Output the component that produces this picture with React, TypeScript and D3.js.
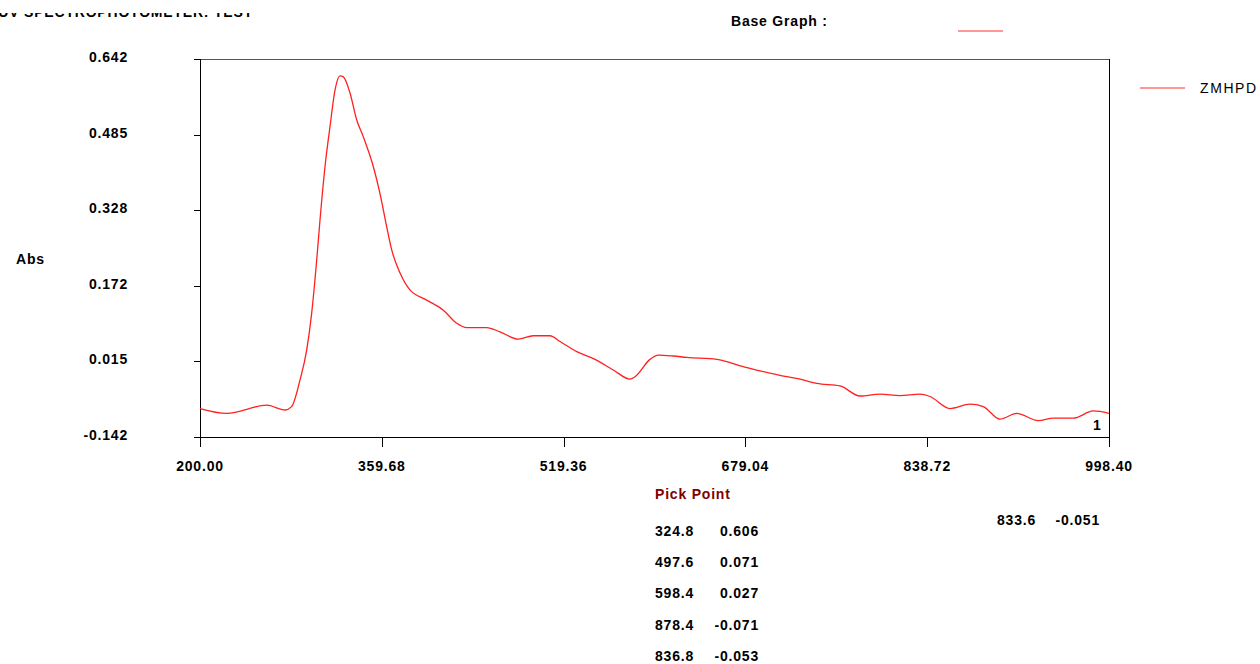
import * as d3 from "d3";

// spectrum (nm, Abs)
const wavelengths = [
  200.0, 223.5, 258.6, 274.7, 280.5, 287.8, 293.7, 298.1, 302.5, 305.4,
  309.8, 314.2, 318.6, 323.0, 325.9, 331.8, 337.6, 343.4, 352.2, 358.1,
  364.0, 368.4, 375.7, 384.4, 399.1, 413.7, 425.5, 434.3, 451.8, 463.5,
  479.6, 492.7, 507.4, 516.2, 530.9, 546.9, 563.0, 577.7, 582.1, 595.2,
  602.5, 615.7, 627.5, 653.8, 677.2, 691.9, 709.4, 727.0, 741.7, 762.1,
  779.7, 797.3, 814.8, 832.4, 841.2, 858.7, 876.3, 888.0, 902.7, 917.3,
  936.3, 949.5, 967.1, 984.6, 998.4,
];
const absorbance = [
  -0.083, -0.093, -0.076, -0.086, -0.079, -0.024, 0.038, 0.115, 0.225, 0.308,
  0.419, 0.502, 0.578, 0.607, 0.605, 0.571, 0.516, 0.481, 0.419, 0.363,
  0.294, 0.246, 0.198, 0.163, 0.142, 0.121, 0.094, 0.085, 0.085, 0.076,
  0.061, 0.068, 0.068, 0.056, 0.035, 0.019, -0.003, -0.022, -0.017, 0.019,
  0.028, 0.026, 0.023, 0.019, 0.004, -0.005, -0.014, -0.022, -0.031, -0.036,
  -0.057, -0.053, -0.056, -0.053, -0.058, -0.083, -0.074, -0.079, -0.105, -0.093,
  -0.108, -0.103, -0.103, -0.088, -0.093,
];

const yTicks = [0.642, 0.485, 0.328, 0.172, 0.015, -0.142];
const xTicks = [200.0, 359.68, 519.36, 679.04, 838.72, 998.4];

const pickWl = [324.8, 497.6, 598.4, 878.4, 836.8];
const pickAbs = [0.606, 0.071, 0.027, -0.071, -0.053];
const cursorWl = 833.6;
const cursorAbs = -0.051;

const seriesName = "ZMHPD";

export default function App() {
  const W = 1260;
  const H = 664;
  const left = 200, right = 1109, top = 59, bottom = 437;

  const x = d3.scaleLinear().domain([200, 998.4]).range([left, right]);
  const y = d3.scaleLinear().domain([-0.142, 0.642]).range([bottom, top]);

  const pts = wavelengths.map((w, i) => [w, absorbance[i]] as [number, number]);
  const line = d3
    .line<[number, number]>()
    .x(d => x(d[0]))
    .y(d => y(d[1]))
    .curve(d3.curveMonotoneX);

  const font = "'Liberation Sans', Arial, sans-serif";
  const bold = { fontFamily: font, fontWeight: 700, fontSize: 14, letterSpacing: 0.8 } as const;

  return (
    <div style={{ position: "fixed", left: 0, top: 0, width: W, height: H, background: "#fff" }}>
      <svg width={W} height={H} style={{ display: "block" }}>
        <rect width={W} height={H} fill="#fff" />

        {/* title, its upper part hidden as in the original window */}
        <text x={253} y={17} textAnchor="end" fill="#000" {...bold}>
          UV SPECTROPHOTOMETER: TEST
        </text>
        <rect x={0} y={0} width={400} height={13} fill="#fff" />

        <text x={731} y={26} fill="#000" {...bold}>Base Graph :</text>
        <line x1={958} x2={1003} y1={31} y2={31} stroke="#ff3030" strokeWidth={1.2} />

        {/* legend */}
        <line x1={1140} x2={1185} y1={88} y2={88} stroke="#ff3030" strokeWidth={1.2} />
        <text x={1200} y={93} fill="#000" fontFamily={font} fontSize={14} letterSpacing={1.6}>
          {seriesName}
        </text>

        {/* frame */}
        <line x1={left} x2={right} y1={top + 0.5} y2={top + 0.5} stroke="#555" />
        <line x1={right + 0.5} x2={right + 0.5} y1={top} y2={bottom + 10} stroke="#000" />
        <line x1={left + 0.5} x2={left + 0.5} y1={top} y2={bottom + 6} stroke="#000" />
        <line x1={left - 6} x2={right} y1={bottom + 0.5} y2={bottom + 0.5} stroke="#000" />

        {yTicks.map(t => (
          <g key={"y" + t}>
            <line x1={left - 6} x2={left} y1={Math.round(y(t)) + 0.5} y2={Math.round(y(t)) + 0.5} stroke="#000" />
            <text x={128} y={y(t) + 3} textAnchor="end" fill="#000" {...bold}>
              {t.toFixed(3)}
            </text>
          </g>
        ))}

        {xTicks.map(t => (
          <g key={"x" + t}>
            <line x1={Math.round(x(t)) + 0.5} x2={Math.round(x(t)) + 0.5} y1={bottom} y2={bottom + 10} stroke="#000" />
            <text x={x(t)} y={471} textAnchor="middle" fill="#000" {...bold}>
              {t.toFixed(2)}
            </text>
          </g>
        ))}

        <text x={16} y={264} fill="#000" {...bold}>Abs</text>

        <path d={line(pts) ?? ""} fill="none" stroke="#ff2020" strokeWidth={1.3} />

        <text x={1093} y={430} fill="#000" {...bold}>1</text>

        {/* pick point table */}
        <text x={655} y={499} fill="#800000" {...bold}>Pick Point</text>
        {pickWl.map((w, i) => (
          <g key={"p" + i}>
            <text x={655} y={536 + i * 31.2} fill="#000" {...bold}>{w.toFixed(1)}</text>
            <text x={759} y={536 + i * 31.2} textAnchor="end" fill="#000" {...bold}>
              {pickAbs[i].toFixed(3)}
            </text>
          </g>
        ))}

        <text x={997} y={525} fill="#000" {...bold}>{cursorWl.toFixed(1)}</text>
        <text x={1100} y={525} textAnchor="end" fill="#000" {...bold}>{cursorAbs.toFixed(3)}</text>
      </svg>
    </div>
  );
}
